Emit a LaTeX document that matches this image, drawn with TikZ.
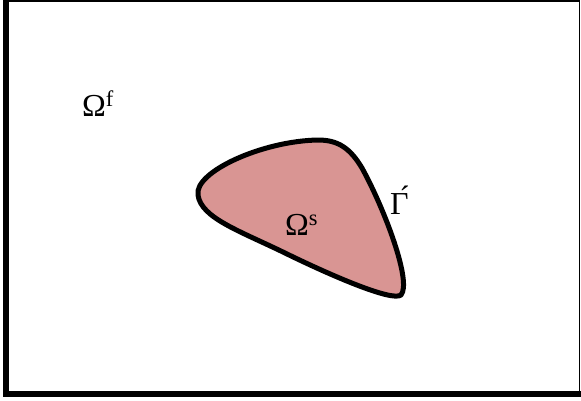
\documentclass[tikz,border=0pt]{standalone}
\usepackage{fontspec}
\setmainfont{Liberation Serif}
\definecolor{solido}{HTML}{D99593}
\usepackage{tikz}

\begin{document}
\begin{tikzpicture}[
  x=1pt, y=-1pt,
  dominio/.style={font=\fontsize{32}{34}\selectfont, inner sep=0pt, anchor=base west},
  borde/.style={line width=5pt, line join=round},
]
\useasboundingbox (0,0) rectangle (581,400);
% marco
\draw[line width=1.5pt] (6,1) -- (579.5,1) -- (579.5,394);
\draw[line width=6pt] (6,0) -- (6,394) -- (581,394);
% solido
\draw[borde, fill=solido] (198,195)
  .. controls (194,172) and (262,141) .. (318,140)
  .. controls (338,140) and (350,148) .. (362,168)
  .. controls (385,210) and (412,282) .. (401,295)
  .. controls (392,302) and (330,275) .. (285,253)
  .. controls (240,231) and (201,218) .. (198,195) -- cycle;
\node[dominio] (fluido) at (82,116) {Ω\textsuperscript{f}};
\node[dominio] (estructura) at (285,235) {Ω\textsuperscript{s}};
\node[dominio] (interfaz) at (390,214) {Γ́};
\end{tikzpicture}
\end{document}
